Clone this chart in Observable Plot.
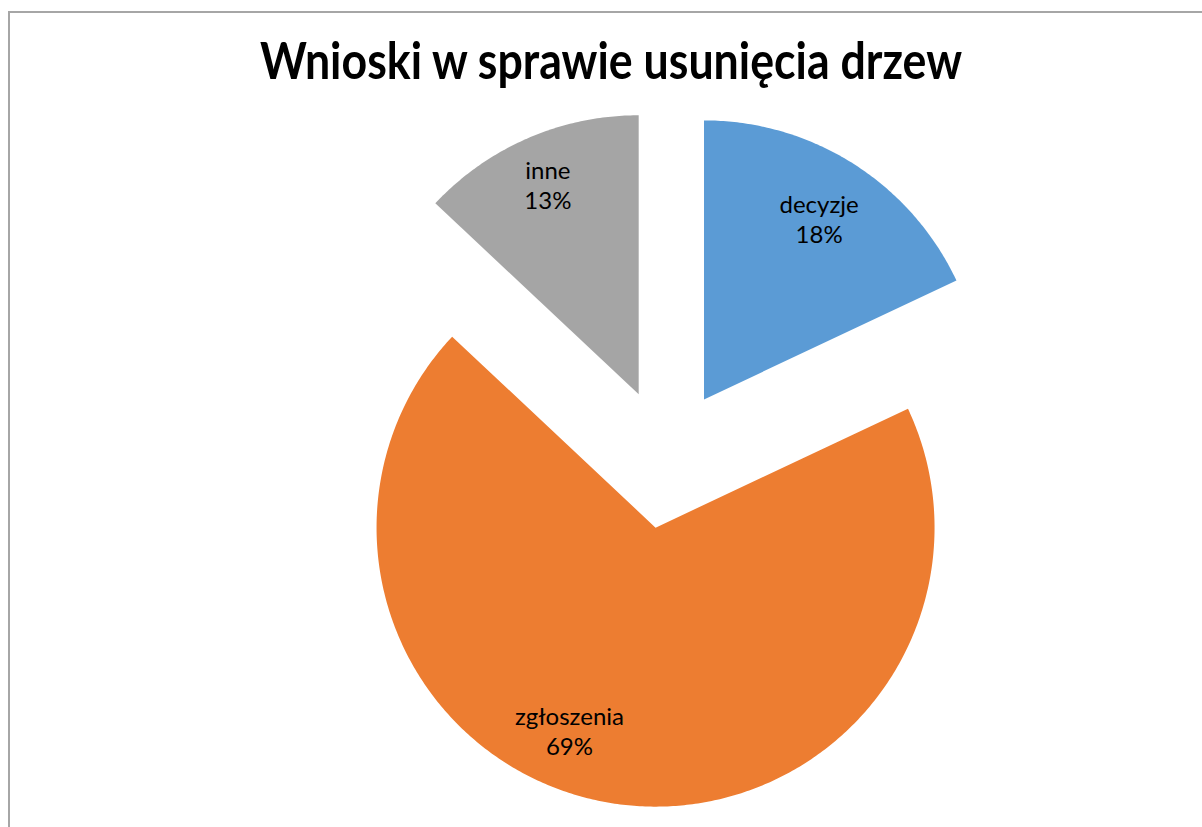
<!DOCTYPE html>
<html><head><meta charset="utf-8">
<script src="https://cdn.jsdelivr.net/npm/d3@7"></script>
<script src="https://cdn.jsdelivr.net/npm/@observablehq/plot@0.6"></script>
<style>
body{margin:0;background:#fff;overflow:hidden;}
#frame{position:absolute;left:8px;top:11px;width:1400px;height:1000px;border-left:2px solid #a6a6a6;border-top:2px solid #a6a6a6;box-sizing:border-box;}
#wrap{position:absolute;left:0;top:0;width:1202px;}
#title{position:relative;height:100px;width:1202px;}
#title span{position:absolute;left:611px;top:29px;transform-origin:center;white-space:nowrap;font-family:Lato,"Open Sans",sans-serif;font-weight:bold;font-size:52px;line-height:60px;color:#000;}
</style></head>
<body>
<div id="frame"></div>
<div id="wrap">
<div id="title"><span id="t">Wnioski w sprawie usunięcia drzew</span></div>
<div id="chart"></div>
</div>
<script>
const categories = ["decyzje", "zgłoszenia", "inne"];
const values = [18, 69, 13];
const colors = ["#5B9BD5", "#ED7D31", "#A5A5A5"];

// layout
const W = 1202, H = 727;
const cx = 666, cy = 358, R = 279, explode = 70;
const labelRadius = {"decyzje": 0.77, "zgłoszenia": 0.79, "inne": 0.82};
const labelAngleShift = {"zgłoszenia": 14};

const rows = categories.map((c, i) => ({name: c, value: values[i]}));
const total = d3.sum(values);
const arcs = d3.pie().sort(null).value(d => d.value)(rows);

const polys = [];
const labels = [];
for (const a of arcs) {
  const mid = (a.startAngle + a.endAngle) / 2;
  const ox = cx + explode * Math.sin(mid), oy = cy - explode * Math.cos(mid);
  polys.push({name: a.data.name, x: ox, y: oy});
  const n = Math.max(2, Math.ceil((a.endAngle - a.startAngle) / 0.01));
  for (let k = 0; k <= n; k++) {
    const t = a.startAngle + (a.endAngle - a.startAngle) * k / n;
    polys.push({name: a.data.name, x: ox + R * Math.sin(t), y: oy - R * Math.cos(t)});
  }
  polys.push({name: a.data.name, x: ox, y: oy});
  const la = mid + (labelAngleShift[a.data.name] || 0) * Math.PI / 180;
  const lr = labelRadius[a.data.name] * R;
  labels.push({
    name: a.data.name,
    x: ox + lr * Math.sin(la),
    y: oy - lr * Math.cos(la),
    text: a.data.name + "\n" + Math.round(a.data.value / total * 100) + "%"
  });
}

const chart = Plot.plot({
  width: W, height: H,
  margin: 0,
  x: {domain: [0, W], range: [0, W], axis: null},
  y: {domain: [0, H], range: [0, H], axis: null},
  color: {domain: categories, range: colors},
  style: {background: "transparent", overflow: "visible"},
  marks: [
    Plot.line(polys, {x: "x", y: "y", z: "name", fill: "name", stroke: "none", curve: "linear"}),
    Plot.text(labels, {x: "x", y: "y", text: "text", fill: "#000", fontSize: 24, lineHeight: 1.25, fontFamily: "Lato, 'Open Sans', sans-serif"})
  ]
});
document.getElementById("chart").appendChild(chart);

// fit title width to reference
const t = document.getElementById("t");
const w = t.getBoundingClientRect().width;
t.style.transform = `translateX(-50%) scaleX(${702 / w})`;
</script>
</body></html>
